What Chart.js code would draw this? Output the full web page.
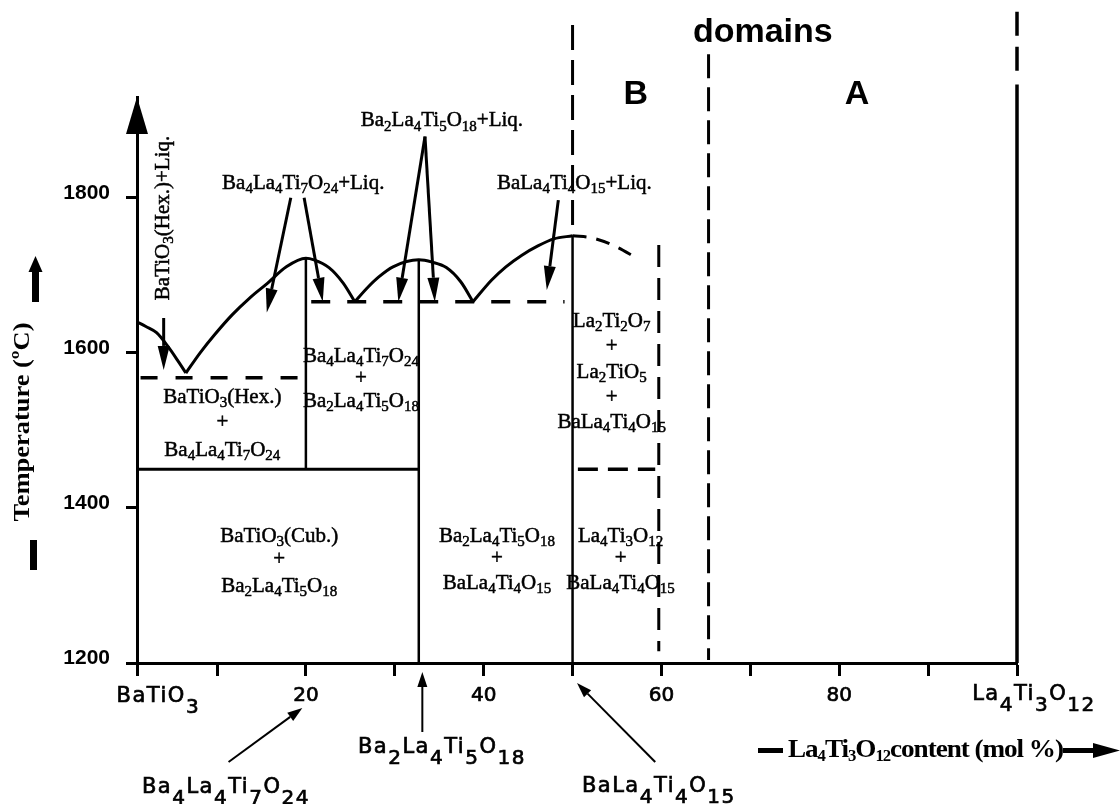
<!DOCTYPE html>
<html>
<head>
<meta charset="utf-8">
<script src="https://cdn.jsdelivr.net/npm/chart.js@4.4.1/dist/chart.umd.min.js"></script>
<style>
  html, body { margin: 0; padding: 0; background: #fff; }
  #wrap { width: 1120px; height: 804px; }
</style>
</head>
<body>
<div id="wrap"><canvas id="phaseChart" width="1120" height="804"></canvas></div>
<script>
// axes: La4Ti3O12 content (mol %) and temperature (°C)
const xTicks = [1, 10, 20, 30, 40, 50, 60, 70, 80, 90, 100];
const xTickLabels = { 20: '20', 40: '40', 60: '60', 80: '80' };
const yTicks = [1200, 1400, 1600, 1800];

// liquidus branches, [mol %, °C]
const liqBaTiO3 = [[1, 1640], [2, 1634], [3.2, 1626], [4.5, 1608], [5.7, 1588], [6.5, 1574]];
const liq4471 = [[6.5, 1574], [8.1, 1600], [9.7, 1623], [11.7, 1649], [13.7, 1671], [15.7, 1690], [17.8, 1711], [20, 1722], [20.9, 1720], [22.6, 1710], [24.2, 1690], [25.5, 1666]];
const liq2451 = [[25.5, 1666], [27, 1685], [28.2, 1698], [29.8, 1711], [32.7, 1720], [34.2, 1717], [35.8, 1710], [37.4, 1692], [38.8, 1666]];
const liq1441 = [[38.8, 1666], [40.9, 1694], [42.5, 1711], [44.3, 1726], [46.1, 1738], [47.9, 1747], [50, 1751]];
const liq1441Dashed = [[50, 1751], [52.3, 1748], [54.9, 1737], [57.1, 1723]];

// invariant and phase boundary lines
const eutectic1 = [[1.4, 1568], [19.3, 1568]];
const eutectic2 = [[20.6, 1666], [49.1, 1666]];
const hexCub = [[1, 1450], [32.7, 1450]];
const line1450Dashed = [[50.6, 1450], [59.3, 1450]];
const comp4471 = [[20, 1722], [20, 1450]];
const comp2451 = [[32.7, 1720], [32.7, 1200]];
const comp1441 = [[50, 1751], [50, 1200]];
const comp1441Top = [[50, 2023], [50, 1751]];
const bound60 = [[59.7, 1739], [59.7, 1215]];
const boundAB = [[65.3, 1985], [65.3, 1204]];
const comp4312Top = [[100, 2040], [100, 1955]];
const comp4312 = [[100, 1946], [100, 1200]];

const serif = '"Liberation Serif", "Times New Roman", serif';
const sans = '"Liberation Sans", Arial, sans-serif';
const tech = '"DejaVu Sans", sans-serif';

function line(points, width, dash, curved) {
  return {
    data: points.map(([x, y]) => ({ x, y })),
    showLine: true,
    pointRadius: 0,
    borderColor: '#000',
    borderWidth: width,
    borderDash: dash || [],
    cubicInterpolationMode: curved ? 'monotone' : 'default',
    tension: 0,
    fill: false,
    clip: false
  };
}

const datasets = [
  line(liqBaTiO3, 3, null, true),
  line(liq4471, 3, null, true),
  line(liq2451, 3, null, true),
  line(liq1441, 3, null, true),
  line(liq1441Dashed, 3, [14, 10], true),
  line(eutectic1, 3.5, [17, 18]),
  line(eutectic2, 3.5, [19, 17]),
  line(hexCub, 3),
  line(line1450Dashed, 3.5, [20, 10]),
  line(comp4471, 2.5),
  line(comp2451, 2.5),
  line(comp1441, 2.5),
  line(comp1441Top, 3, [25, 10]),
  line(bound60, 3, [22, 11]),
  line(boundAB, 3, [24, 9]),
  line(comp4312Top, 3.5, [24, 11]),
  line(comp4312, 3.5)
];

// labels inside the diagram, anchored in data units
const regionLabels = [
  { x: 10.6, ys: [1544, 1512, 1476], lines: ['BaTiO3(Hex.)', '+', 'Ba4La4Ti7O24'] },
  { x: 26.2, ys: [1597, 1569, 1539], lines: ['Ba4La4Ti7O24', '+', 'Ba2La4Ti5O18'] },
  { x: 17.0, ys: [1365, 1335, 1301], lines: ['BaTiO3(Cub.)', '+', 'Ba2La4Ti5O18'] },
  { x: 41.5, ys: [1365, 1337, 1305], lines: ['Ba2La4Ti5O18', '+', 'BaLa4Ti4O15'] },
  { x: 55.4, ys: [1365, 1337, 1305], lines: ['La4Ti3O12', '+', 'BaLa4Ti4O15'] },
  { x: 54.4, ys: [1643, 1610, 1577, 1545, 1512], lines: ['La2Ti2O7', '+', 'La2TiO5', '+', 'BaLa4Ti4O15'] }
];

const liquidLabels = [
  { x: 19.7, y: 1821, text: 'Ba4La4Ti7O24+Liq.', arrows: [[18.3, 1800, 15.6, 1652], [19.8, 1800, 21.9, 1666]] },
  { x: 35.3, y: 1901, text: 'Ba2La4Ti5O18+Liq.', arrows: [[33.4, 1879, 30.4, 1666], [33.4, 1879, 34.5, 1666]] },
  { x: 50.2, y: 1821, text: 'BaLa4Ti4O15+Liq.', arrows: [[48.4, 1797, 47.1, 1681]] }
];

// compound labels under the axis: x in mol %, dy = baseline below axis in px
const compoundLabels = [
  { x: 3.4, dy: 39, text: 'BaTiO3' },
  { x: 101.9, dy: 37, text: 'La4Ti3O12' },
  { x: 35.3, dy: 90, text: 'Ba2La4Ti5O18' },
  { x: 11.0, dy: 130, text: 'Ba4La4Ti7O24' },
  { x: 59.7, dy: 129, text: 'BaLa4Ti4O15' }
];
const compoundArrows = [[11.3, 99, 19.6, 45], [33.1, 69, 33.1, 9], [59.3, 99, 50.5, 20]];

function drawFormula(ctx, text, cx, base, o) {
  const parts = text.match(/\d+|\D+/g);
  const main = `${o.weight || 'normal'} ${o.size}px ${o.family}`;
  const sub = `${o.weight || 'normal'} ${Math.round(o.size * o.subScale)}px ${o.family}`;
  ctx.letterSpacing = (o.spacing || 0) + 'px';
  let w = 0;
  parts.forEach(p => { ctx.font = /\d/.test(p) ? sub : main; w += ctx.measureText(p).width; });
  const sx = o.width ? o.width / w : 1;
  ctx.save();
  ctx.translate(cx, base);
  ctx.scale(sx, 1);
  ctx.textAlign = 'left';
  ctx.textBaseline = 'alphabetic';
  ctx.lineWidth = o.stroke || 0;
  let xp = -w / 2;
  parts.forEach(p => {
    const isSub = /\d/.test(p);
    const yp = isSub ? o.size * o.subDrop : 0;
    ctx.font = isSub ? sub : main;
    ctx.fillText(p, xp, yp);
    if (o.stroke) ctx.strokeText(p, xp, yp);
    xp += ctx.measureText(p).width;
  });
  ctx.restore();
  ctx.letterSpacing = '0px';
}

function drawArrow(ctx, x1, y1, x2, y2, head, halfW, lw) {
  const a = Math.atan2(y2 - y1, x2 - x1);
  const bx = x2 - head * Math.cos(a), by = y2 - head * Math.sin(a);
  ctx.lineWidth = lw;
  ctx.beginPath(); ctx.moveTo(x1, y1); ctx.lineTo(bx, by); ctx.stroke();
  ctx.beginPath();
  ctx.moveTo(x2, y2);
  ctx.lineTo(bx + halfW * Math.sin(a), by - halfW * Math.cos(a));
  ctx.lineTo(bx - halfW * Math.sin(a), by + halfW * Math.cos(a));
  ctx.closePath();
  ctx.fill();
}

const regionFont = { size: 21, family: serif, subScale: 0.72, subDrop: 0.2, stroke: 0.5 };
const axisFont = { size: 21, family: tech, subScale: 0.95, subDrop: 0.5, spacing: 1.5, stroke: 0.7 };

const annotations = {
  id: 'phaseAnnotations',
  afterDraw(chart) {
    const { ctx, chartArea, scales: { x, y } } = chart;
    const px = v => x.getPixelForValue(v);
    const py = v => y.getPixelForValue(v);
    ctx.save();
    ctx.fillStyle = '#000';
    ctx.strokeStyle = '#000';
    ctx.lineCap = 'butt';

    // temperature axis arrow head
    ctx.beginPath();
    ctx.moveTo(chartArea.left, chartArea.top);
    ctx.lineTo(chartArea.left - 11, chartArea.top + 37);
    ctx.lineTo(chartArea.left + 11, chartArea.top + 37);
    ctx.closePath();
    ctx.fill();

    regionLabels.forEach(r => r.lines.forEach((t, i) => {
      drawFormula(ctx, t, px(r.x), py(r.ys[i]) + 7, regionFont);
    }));

    liquidLabels.forEach(l => {
      drawFormula(ctx, l.text, px(l.x), py(l.y) + 7, regionFont);
      l.arrows.forEach(a => drawArrow(ctx, px(a[0]), py(a[1]), px(a[2]), py(a[3]), 24, 6, 3));
    });

    // rotated BaTiO3(Hex.)+Liq. label
    ctx.save();
    ctx.translate(px(3.8), py(1774));
    ctx.rotate(-Math.PI / 2);
    drawFormula(ctx, 'BaTiO3(Hex.)+Liq.', 0, 7, regionFont);
    ctx.restore();
    drawArrow(ctx, px(4.0), py(1645), px(4.0), py(1578), 24, 6, 3);

    // domains
    ctx.textAlign = 'center';
    ctx.textBaseline = 'middle';
    ctx.font = `bold 34px ${sans}`;
    ctx.fillText('domains', px(71.4), py(2013));
    ctx.fillText('B', px(57.1), py(1933));
    ctx.fillText('A', px(82.0), py(1933));

    // compounds under the composition axis
    const axisY = chartArea.bottom;
    compoundLabels.forEach(c => drawFormula(ctx, c.text, px(c.x), axisY + c.dy, axisFont));
    compoundArrows.forEach(a => drawArrow(ctx, px(a[0]), axisY + a[1], px(a[2]), axisY + a[3], 15, 5, 2));

    // composition axis title
    ctx.fillRect(758, axisY + 85, 25, 5);
    drawFormula(ctx, 'La4Ti3O12content (mol %)', 925.5, axisY + 94,
      { size: 26, family: serif, weight: 'bold', subScale: 0.6, subDrop: 0.15, width: 275, spacing: -1 });
    ctx.fillRect(1063, axisY + 85, 34, 5);
    ctx.beginPath();
    ctx.moveTo(1120, axisY + 87.5);
    ctx.lineTo(1093, axisY + 80);
    ctx.lineTo(1093, axisY + 95);
    ctx.closePath();
    ctx.fill();

    // temperature axis title
    ctx.save();
    ctx.translate(23, 422);
    ctx.rotate(-Math.PI / 2);
    ctx.textAlign = 'center';
    ctx.textBaseline = 'middle';
    ctx.font = `bold 24px ${serif}`;
    const tw = ctx.measureText('Temperature (ºC)').width;
    ctx.scale(199 / tw, 1);
    ctx.fillText('Temperature (ºC)', 0, 0);
    ctx.restore();
    ctx.fillRect(30, 540, 7, 30);
    ctx.fillRect(32, 270, 7, 32);
    ctx.beginPath();
    ctx.moveTo(35.5, 256);
    ctx.lineTo(28.5, 272);
    ctx.lineTo(42.5, 272);
    ctx.closePath();
    ctx.fill();

    ctx.restore();
  }
};

new Chart(document.getElementById('phaseChart'), {
  type: 'scatter',
  data: { datasets },
  options: {
    responsive: false,
    animation: false,
    layout: { padding: { top: 97, right: 103, left: 0, bottom: 0 } },
    plugins: { legend: { display: false }, tooltip: { enabled: false } },
    scales: {
      x: {
        type: 'linear',
        min: 1,
        max: 100,
        afterBuildTicks: s => { s.ticks = xTicks.map(v => ({ value: v })); },
        afterFit: s => { s.height = 141; },
        grid: { drawOnChartArea: false, drawTicks: true, tickLength: 13, tickWidth: 3, tickColor: '#000' },
        border: { display: true, color: '#000', width: 3 },
        ticks: {
          callback: v => xTickLabels[v] || '',
          color: '#000',
          textStrokeColor: '#000',
          textStrokeWidth: 0.7,
          font: { family: 'DejaVu Sans', size: 20 },
          padding: 8,
          maxRotation: 0,
          autoSkip: false
        }
      },
      y: {
        type: 'linear',
        min: 1200,
        max: 1930,
        afterBuildTicks: s => { s.ticks = yTicks.map(v => ({ value: v })); },
        afterFit: s => { s.width = 137; },
        grid: { drawOnChartArea: false, drawTicks: true, tickLength: 11, tickWidth: 3, tickColor: '#000' },
        border: { display: true, color: '#000', width: 3 },
        ticks: {
          callback: v => String(v),
          color: '#000',
          font: { family: 'Liberation Sans', size: 21, weight: 'bold' },
          padding: 16,
          labelOffset: -5
        }
      }
    }
  },
  plugins: [annotations]
});
</script>
</body>
</html>
